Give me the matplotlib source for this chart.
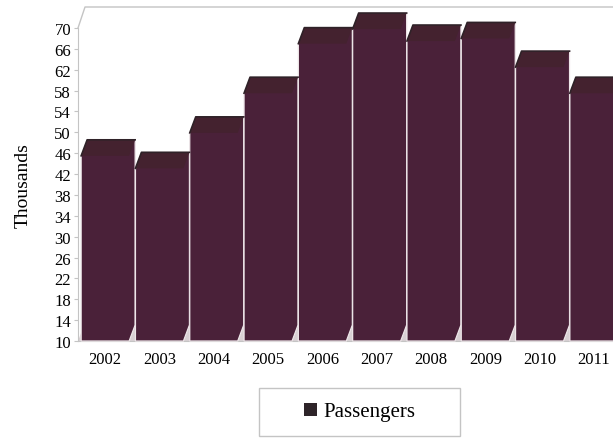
import matplotlib.pyplot as plt
from matplotlib.patches import Polygon, Patch, Rectangle

# data (thousands of passengers)
years = ['2002', '2003', '2004', '2005', '2006', '2007', '2008', '2009', '2010', '2011']
passengers = [45.5, 43.1, 49.9, 57.5, 67.0, 69.8, 67.5, 68.0, 62.5, 57.5]
y_ticks = list(range(10, 71, 4))

front_color = '#4a2139'
top_color = '#44222f'
edge_dark = '#2f2228'
frame_color = '#c4c4c4'
floor_color = '#d8d0d3'

plt.rcParams['font.family'] = ['Liberation Serif', 'DejaVu Serif']

W, H = 613, 439
fig = plt.figure(figsize=(W / 100, H / 100), dpi=100)

# axes placed in pixels: front axis x=78, value 10 at y=342, value 70 at y=29
ax_l, ax_r, ax_b, ax_t = 78, 613, 342, 29
ax = fig.add_axes([ax_l / W, 1 - ax_b / H, (ax_r - ax_l) / W, (ax_b - ax_t) / H])

step_px = 54.3
xmin = -0.5
xmax = xmin + (ax_r - ax_l) / step_px
ymin, ymax = 10, 70
ax.set_xlim(xmin, xmax)
ax.set_ylim(ymin, ymax)

px_x = 1 / step_px
px_y = (ymax - ymin) / (ax_b - ax_t)

w = 48 * px_x      # front face width
dx = 6 * px_x      # depth offset
dy = 16 * px_y

# floor strip seen under the bars
floor = Polygon([(xmin, ymin), (xmin + dx, ymin + dy), (xmax + 1, ymin + dy), (xmax + 1, ymin)],
                closed=True, facecolor=floor_color, edgecolor='none', zorder=2)
ax.add_patch(floor)

for i, v in enumerate(passengers):
    l, r = i - w / 2, i + w / 2
    body = Polygon([(l, ymin), (l, v), (l + dx, v + dy), (r + dx, v + dy),
                    (r + dx, ymin + dy), (r, ymin)],
                   closed=True, facecolor=front_color, edgecolor='#eee6e9',
                   linewidth=0.9, clip_on=False, zorder=3)
    ax.add_patch(body)
    top = Polygon([(l, v), (l + dx, v + dy), (r + dx, v + dy), (r, v)],
                  closed=True, facecolor=top_color, edgecolor='none',
                  clip_on=False, zorder=4)
    ax.add_patch(top)
    ax.plot([l, l + dx, r + dx], [v, v + dy, v + dy], color=edge_dark,
            linewidth=1.2, clip_on=False, zorder=5)

# 3d frame: back wall top and the slanted corner
fdx = 7 * px_x
fdy = 21 * px_y
ax.plot([xmin, xmin + fdx, xmax + 1], [ymax, ymax + fdy, ymax + fdy],
        color=frame_color, linewidth=1, clip_on=False, zorder=1)

for s in ['top', 'right']:
    ax.spines[s].set_visible(False)
ax.spines['left'].set_color(frame_color)
ax.spines['bottom'].set_color(frame_color)

ax.set_yticks(y_ticks)
ax.set_xticks(range(len(years)))
ax.set_xticklabels(years)
ax.tick_params(axis='y', length=3, color=frame_color, labelsize=12, pad=2)
ax.tick_params(axis='x', length=0, labelsize=12, pad=7)

ax.set_ylabel('Thousands', fontsize=14)
ax.yaxis.set_label_coords((32 - ax_l) / (ax_r - ax_l), 0.5)

# legend in its own box
box = Rectangle((259 / W, 1 - 437 / H), 201 / W, 48 / H, transform=fig.transFigure,
                facecolor='white', edgecolor=frame_color, linewidth=1)
fig.patches.append(box)
fig.legend(handles=[Patch(facecolor='#2e2429', label='Passengers')],
           loc='center', bbox_to_anchor=(359.5 / W, 1 - 413 / H),
           frameon=False, fontsize=15, handlelength=0.6, handleheight=0.6,
           handletextpad=0.3)

fig.savefig('out.png', dpi=100)
